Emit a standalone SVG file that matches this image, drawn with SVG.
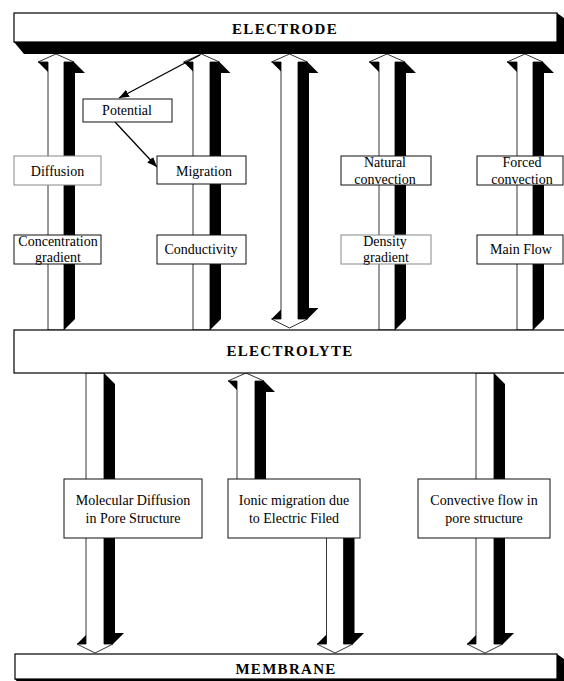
<svg xmlns="http://www.w3.org/2000/svg" width="564" height="681" viewBox="0 0 564 681">
<defs>
<style>
.bar{fill:#fff;stroke:#000;stroke-width:1.2}
.sh{fill:#000}
.af{fill:#fff;stroke:#000;stroke-width:0.8;stroke-linejoin:miter}
.ab{fill:#000}
.box{fill:#fff;stroke:#111;stroke-width:1}
.faint{stroke:#888}
.t{font-family:"Liberation Serif","Times New Roman",serif;font-size:14px;fill:#000;text-anchor:middle}
.bt{font-family:"Liberation Serif","Times New Roman",serif;font-size:15px;font-weight:bold;letter-spacing:1.3px;fill:#000;text-anchor:middle}
.ln{stroke:#000;stroke-width:1.3;fill:none}
</style>
<marker id="ah" viewBox="0 0 10 8" refX="10" refY="4" markerWidth="10" markerHeight="8" markerUnits="userSpaceOnUse" orient="auto">
<path d="M0,0 L10,4 L0,8 Z" fill="#000"/>
</marker>
</defs>
<rect width="564" height="681" fill="#fff"/>

<g id="connectors">
<g id="arrow-diffusion">
<polygon class="ab" points="64,62 74,62 85,73 75,73 75,319 64,330"/>
<polygon class="ab" points="38,62 48,62 59,73 49,73"/>
<polygon class="af" points="56,54 74,62 64,62 64,330 48,330 48,62 38,62"/>
</g>
<g id="arrow-migration">
<polygon class="ab" points="210,62 219.5,62 230.5,73 221,73 221,319 210,330"/>
<polygon class="ab" points="183.5,62 193,62 204,73 194.5,73"/>
<polygon class="af" points="201.5,54 219.5,62 210,62 210,330 193,330 193,62 183.5,62"/>
</g>
<g id="arrow-double">
<polygon class="ab" points="298,62 307.5,62 318.5,73 309,73 309,308 318.5,308 307.5,319 298,319"/>
<polygon class="ab" points="271.5,62 281,62 292,73 282.5,73"/>
<polygon class="ab" points="271.5,319 281,319 292,308 282.5,308"/>
<polygon class="af" points="289.5,54 307.5,62 298,62 298,319 307.5,319 289.5,328 271.5,319 281,319 281,62 271.5,62"/>
</g>
<g id="arrow-natural">
<polygon class="ab" points="395,62 405,62 416,73 406,73 406,319 395,330"/>
<polygon class="ab" points="369,62 379,62 390,73 380,73"/>
<polygon class="af" points="387,54 405,62 395,62 395,330 379,330 379,62 369,62"/>
</g>
<g id="arrow-forced">
<polygon class="ab" points="533,62 543,62 554,73 544,73 544,319 533,330"/>
<polygon class="ab" points="507,62 517,62 528,73 518,73"/>
<polygon class="af" points="525,54 543,62 533,62 533,330 517,330 517,62 507,62"/>
</g>
<g id="arrow-molecular">
<polygon class="ab" points="104,373 115,384 115,633 124,633 113,644 104,644"/>
<polygon class="ab" points="77,644 86,644 97,633 88,633"/>
<polygon class="af" points="86,373 104,373 104,644 113,644 95,653 77,644 86,644"/>
</g>
<g id="arrow-ionic-up">
<polygon class="ab" points="255,381 264,381 275,392 266,392 266,485 255,485"/>
<polygon class="ab" points="228,381 237,381 248,392 239,392"/>
<polygon class="af" points="246,373 264,381 255,381 255,485 237,485 237,381 228,381"/>
</g>
<g id="arrow-ionic-down">
<polygon class="ab" points="343.5,532 354.5,532 354.5,633 364,633 353,644 343.5,644"/>
<polygon class="ab" points="317,644 326.5,644 337.5,633 328,633"/>
<polygon class="af" points="326.5,532 343.5,532 343.5,644 353,644 335,653 317,644 326.5,644"/>
</g>
<g id="arrow-convective">
<polygon class="ab" points="494,373 505,384 505,633 514,633 503,644 494,644"/>
<polygon class="ab" points="467,644 476,644 487,633 478,633"/>
<polygon class="af" points="476,373 494,373 494,644 503,644 485,653 467,644 476,644"/>
</g>
<line class="ln" x1="200" y1="55" x2="119" y2="98" marker-end="url(#ah)"/>
<line class="ln" x1="115" y1="122" x2="157" y2="167" marker-end="url(#ah)"/>
</g>

<g id="electrode">
<polygon class="sh" points="14,42 24,54 564,54 564,18 557,13 557,42"/>
<rect class="bar" x="14" y="13" width="543" height="29"/>
<text class="bt" x="285" y="34">ELECTRODE</text>
</g>

<g id="electrolyte">
<rect class="bar" x="14" y="330" width="556" height="43"/>
<text class="bt" x="290" y="356">ELECTROLYTE</text>
</g>

<g id="membrane">
<polygon class="sh" points="15,679 19,684 564,684 564,659 557,654 557,679"/>
<rect class="bar" x="15" y="654" width="542" height="25"/>
<text class="bt" x="286" y="674">MEMBRANE</text>
</g>

<g id="potential">
<rect class="box" x="83" y="99" width="89" height="23"/>
<text class="t" x="127" y="115">Potential</text>
</g>
<g id="diffusion">
<rect class="box faint" x="14" y="156" width="87" height="29"/>
<text class="t" x="57.5" y="176">Diffusion</text>
</g>
<g id="migration">
<rect class="box" x="157" y="156" width="89" height="28"/>
<text class="t" x="204" y="176">Migration</text>
</g>
<g id="natural-convection">
<rect class="box" x="341" y="156" width="90" height="29"/>
<text class="t" x="385" y="167">Natural</text>
<text class="t" x="385" y="184">convection</text>
</g>
<g id="forced-convection">
<rect class="box" x="477" y="156" width="86" height="29"/>
<text class="t" x="522" y="167">Forced</text>
<text class="t" x="522" y="184">convection</text>
</g>
<g id="concentration-gradient">
<rect class="box" x="14" y="235" width="87" height="29"/>
<text class="t" x="58" y="246">Concentration</text>
<text class="t" x="58" y="262">gradient</text>
</g>
<g id="conductivity">
<rect class="box" x="157" y="235" width="89" height="29"/>
<text class="t" x="201" y="254">Conductivity</text>
</g>
<g id="density-gradient">
<rect class="box faint" x="341" y="235" width="90" height="29"/>
<text class="t" x="385" y="246">Density</text>
<text class="t" x="386" y="262">gradient</text>
</g>
<g id="main-flow">
<rect class="box" x="477" y="235" width="86" height="29"/>
<text class="t" x="521" y="254">Main Flow</text>
</g>

<g id="molecular-diffusion">
<rect class="box" x="64" y="479" width="138" height="59"/>
<text class="t" x="133" y="505">Molecular Diffusion</text>
<text class="t" x="133" y="523">in Pore Structure</text>
</g>
<g id="ionic-migration">
<rect class="box" x="228" y="479" width="132" height="59"/>
<text class="t" x="294" y="505">Ionic migration due</text>
<text class="t" x="294" y="523">to Electric Filed</text>
</g>
<g id="convective-flow">
<rect class="box" x="418" y="479" width="132" height="59"/>
<text class="t" x="484" y="505">Convective flow in</text>
<text class="t" x="484" y="523">pore structure</text>
</g>
</svg>
